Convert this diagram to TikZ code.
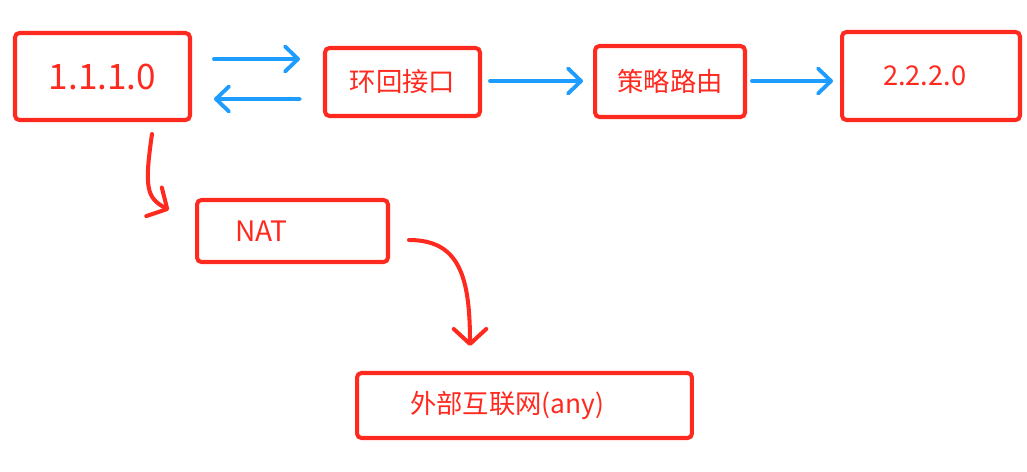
\documentclass[tikz,border=0pt]{standalone}
\usepackage{fontspec}
\setmainfont{Noto Sans CJK SC}
\usepackage{xcolor}
\usepackage{tikz}
\usetikzlibrary{arrows.meta, calc}
\definecolor{rtRed}{HTML}{FF2A1F}
\definecolor{rtBlue}{HTML}{1E9CFF}
\tikzset{
  rtbox/.style={draw=rtRed, line width=2.3pt, rounded corners=2.5pt, text=rtRed,
                inner sep=0pt, font=\fontsize{15}{18}\selectfont},
  rtlink/.style={draw=rtBlue, line width=2.2pt, line cap=round,
                 -{Straight Barb[length=0.26cm, width=0.5cm, round]}},
  rtnat/.style={draw=rtRed, line width=2.3pt, line cap=round,
                -{Straight Barb[length=0.3cm, width=0.65cm, round]}},
}

\begin{document}
\begin{tikzpicture}[x=0.02cm, y=-0.02cm]
\useasboundingbox[fill=white] (0,0) rectangle (1027,471);
\node[rtbox, minimum width=3.5cm, minimum height=1.74cm, font=\fontsize{20}{24}\selectfont] (src) at (102.5,76.5) {1.1.1.0};
\node[rtbox, minimum width=3.1cm, minimum height=1.36cm] (lo) at (402.5,82) {环回接口};
\node[rtbox, minimum width=3.0cm, minimum height=1.42cm] (pbr) at (670,81.5) {策略路由};
\node[rtbox, minimum height=1.76cm, inner xsep=0.82cm, text width=1.92cm, align=left, font=\fontsize{15.5}{19}\selectfont] (dst) at (931,76) {2.2.2.0};
\node[rtbox, minimum height=1.24cm, inner xsep=0.76cm, text width=2.3cm, align=left, font=\fontsize{16}{19}\selectfont] (nat) at (292.5,231) {NAT};
\node[rtbox, minimum height=1.3cm, inner xsep=1.06cm, text width=4.58cm, align=left] (wan) at (524.5,405.5) {外部互联网(any)};

\draw[rtlink] ($(src.east)+(22,-17.5)$) -- ($(lo.west)+(-23,-23)$);
\draw[rtlink] ($(lo.west)+(-23,17)$) -- ($(src.east)+(22,22.5)$);
\draw[rtlink] ($(lo.east)+(8,-1)$) -- ($(pbr.west)+(-10,-0.5)$);
\draw[rtlink] ($(pbr.east)+(5,-0.5)$) -- ($(dst.west)+(-7,5)$);
\draw[rtnat] ($(src.south)+(49.5,12)$) .. controls +(-8,55) and +(-22,-12) .. ($(nat.north west)+(-26,12)$);
\draw[rtnat] ($(nat.east)+(19,9)$) .. controls +(50,0) and +(0,-70) .. ($(wan.north)+(-54.5,-25)$);
\end{tikzpicture}
\end{document}
